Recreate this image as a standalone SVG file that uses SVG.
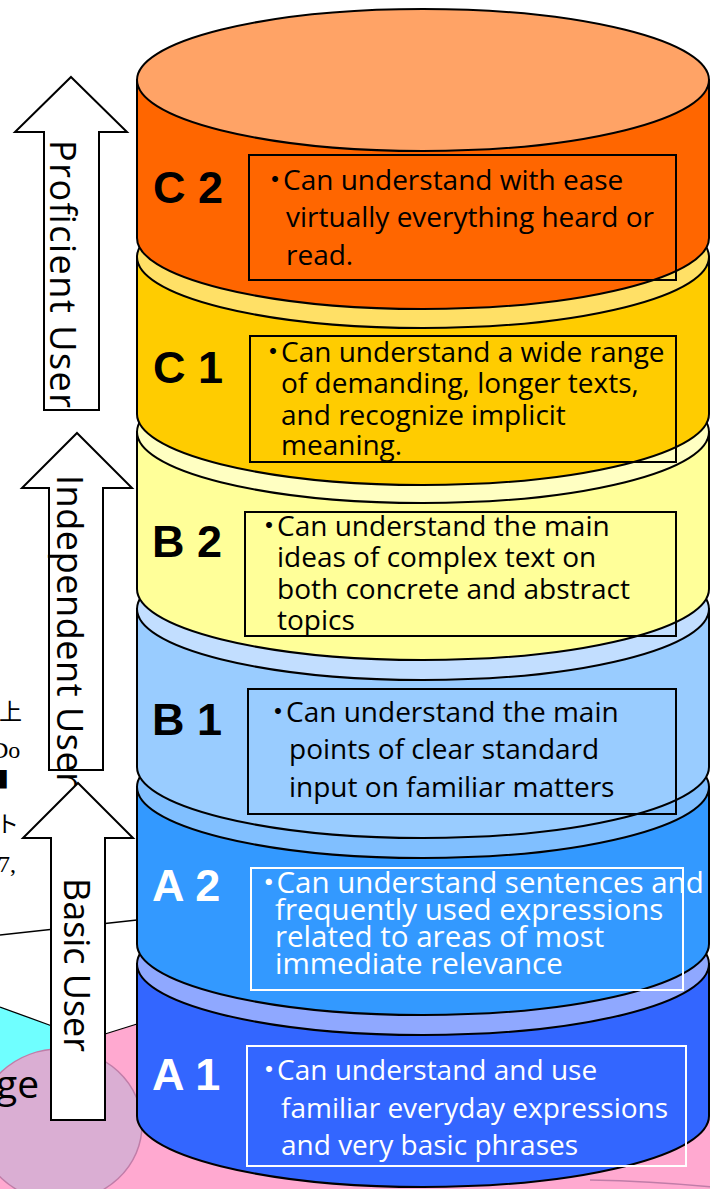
<svg xmlns="http://www.w3.org/2000/svg" width="710" height="1189" viewBox="0 0 710 1189">
  <style>
    .body{stroke:#000;stroke-width:2}
    .box{fill:none;stroke:#000;stroke-width:2}
    .box.w{stroke:#fff}
    .lbl{font-family:"Liberation Sans",Arial,sans-serif;font-weight:bold;font-size:45px;fill:#000}
    .txt{font-family:"Open Sans","Noto Sans CJK JP",sans-serif;font-size:28px;fill:#000}
    .tight{font-size:29.5px}
    .wt{fill:#fff}
    .arrow{fill:#fff;stroke:#000;stroke-width:2}
    .atx{font-family:"Open Sans",sans-serif;font-size:36px;fill:#000}
    .jp{font-family:"Noto Sans CJK JP",sans-serif;font-size:23px;fill:#000}
    .sf{font-family:"Liberation Serif",serif;font-size:24px;fill:#000}
    .edge{fill:none;stroke:#000;stroke-width:1.3}
  </style>

  <rect width="710" height="1189" fill="#fff"/>

  <!-- background slide fragments -->
  <g id="background">
    <path d="M0,1110 L52,1060 L52,1040 L105,1034 L137,1024 L720,990 L720,1189 L0,1189 Z" fill="#FFA9D0"/>
    <path d="M0,1007 L52,1026 L52,1070 L0,1110 Z" fill="#6FFFFF"/>
    <ellipse cx="60" cy="1125" rx="82" ry="76" fill="#DAAED3" stroke="#C07DA8" stroke-width="1.5"/>
    <path d="M590,1180 Q650,1181 712,1187" fill="none" stroke="#C07DA8" stroke-width="1.5"/>
    <line class="edge" x1="0" y1="935" x2="137" y2="920"/>
    <line class="edge" x1="0" y1="1007" x2="52" y2="1026"/>
    <line class="edge" x1="105" y1="1034" x2="137" y2="1024"/>
    <text x="-4" y="1098" font-family="'Open Sans',sans-serif" font-size="39">ge</text>
    <text class="jp" x="-1" y="720">上</text>
    <text class="sf" x="-9" y="758">Do</text>
    <text class="jp" x="-14" y="788" font-size="16">■</text>
    <text class="jp" x="-4" y="832">ト</text>
    <text class="sf" x="-2" y="872" font-size="26">7,</text>
  </g>

  <!-- A1 -->
  <g id="level-a1">
    <path class="body" d="M137,964 V1116 A286,71 0 0 0 709,1116 V964 Z" fill="#3366FF"/>
    <ellipse class="body" cx="423" cy="964" rx="286" ry="71" fill="#8FA8FF"/>
    <text class="lbl wt" x="152" y="1090">A 1</text>
    <rect class="box w" x="247" y="1046" width="439" height="120"/>
    <text class="txt wt" x="255" y="1080">・<tspan dx="-6">Can understand and use</tspan></text>
    <text class="txt wt" x="281" y="1118">familiar everyday expressions</text>
    <text class="txt wt" x="281" y="1155">and very basic phrases</text>
  </g>

  <!-- A2 -->
  <g id="level-a2">
    <path class="body" d="M137,787 V944 A286,71 0 0 0 709,944 V787 Z" fill="#3399FF"/>
    <ellipse class="body" cx="423" cy="787" rx="286" ry="71" fill="#80BFFF"/>
    <text class="lbl wt" x="152" y="901">A 2</text>
    <rect class="box w" x="251" y="868" width="432" height="122"/>
    <text class="txt tight wt" x="254" y="893">・<tspan dx="-7">Can understand sentences and</tspan></text>
    <text class="txt tight wt" x="275" y="920">frequently used expressions</text>
    <text class="txt tight wt" x="275" y="947">related to areas of most</text>
    <text class="txt tight wt" x="275" y="974">immediate relevance</text>
  </g>

  <!-- B1 -->
  <g id="level-b1">
    <path class="body" d="M137,609 V767 A286,71 0 0 0 709,767 V609 Z" fill="#99CCFF"/>
    <ellipse class="body" cx="423" cy="609" rx="286" ry="71" fill="#C2DEFF"/>
    <text class="lbl" x="152" y="735">B 1</text>
    <rect class="box" x="248" y="689" width="428" height="125"/>
    <text class="txt" x="264" y="722">・<tspan dx="-6">Can understand the main</tspan></text>
    <text class="txt" x="289" y="759">points of clear standard</text>
    <text class="txt" x="289" y="797">input on familiar matters</text>
  </g>

  <!-- B2 -->
  <g id="level-b2">
    <path class="body" d="M137,432 V589 A286,71 0 0 0 709,589 V432 Z" fill="#FFFF99"/>
    <ellipse class="body" cx="423" cy="432" rx="286" ry="71" fill="#FFFFC2"/>
    <text class="lbl" x="152" y="557">B 2</text>
    <rect class="box" x="245" y="512" width="431" height="124"/>
    <text class="txt" x="255" y="536">・<tspan dx="-6">Can understand the main</tspan></text>
    <text class="txt" x="277" y="567">ideas of complex text on</text>
    <text class="txt" x="277" y="599">both concrete and abstract</text>
    <text class="txt" x="277" y="630">topics</text>
  </g>

  <!-- C1 -->
  <g id="level-c1">
    <path class="body" d="M137,257 V414 A286,71 0 0 0 709,414 V257 Z" fill="#FFCC00"/>
    <ellipse class="body" cx="423" cy="257" rx="286" ry="71" fill="#FFE066"/>
    <text class="lbl" x="153" y="383">C 1</text>
    <rect class="box" x="250" y="336" width="426" height="126"/>
    <text class="txt" x="259" y="362">・<tspan dx="-6">Can understand a wide range</tspan></text>
    <text class="txt" x="281" y="393">of demanding, longer texts,</text>
    <text class="txt" x="281" y="425">and recognize implicit</text>
    <text class="txt" x="281" y="455">meaning.</text>
  </g>

  <!-- C2 -->
  <g id="level-c2">
    <path class="body" d="M137,80 V238 A286,71 0 0 0 709,238 V80 Z" fill="#FF6600"/>
    <ellipse class="body" cx="423" cy="80" rx="286" ry="71" fill="#FFA366"/>
    <text class="lbl" x="153" y="203">C 2</text>
    <rect class="box" x="249" y="155" width="427" height="125"/>
    <text class="txt" x="261" y="190">・<tspan dx="-6">Can understand with ease</tspan></text>
    <text class="txt" x="286" y="227">virtually everything heard or</text>
    <text class="txt" x="286" y="265">read.</text>
  </g>

  <!-- user band arrows -->
  <g id="arrow-proficient">
    <polygon class="arrow" points="71,77 127,132 99,132 99,410 44,410 44,132 15,132"/>
    <text class="atx" transform="translate(50,140) rotate(90)" textLength="268">Proficient User</text>
  </g>
  <g id="arrow-independent">
    <polygon class="arrow" points="77,433 132,488 103,488 103,770 49,770 49,488 22,488"/>
    <text class="atx" transform="translate(57,475) rotate(90)" textLength="312">Independent User</text>
  </g>
  <g id="arrow-basic">
    <polygon class="arrow" points="78,783 133,838 105,838 105,1120 51,1120 51,838 23,838"/>
    <text class="atx" transform="translate(64,878) rotate(90)" textLength="174">Basic User</text>
  </g>
</svg>
